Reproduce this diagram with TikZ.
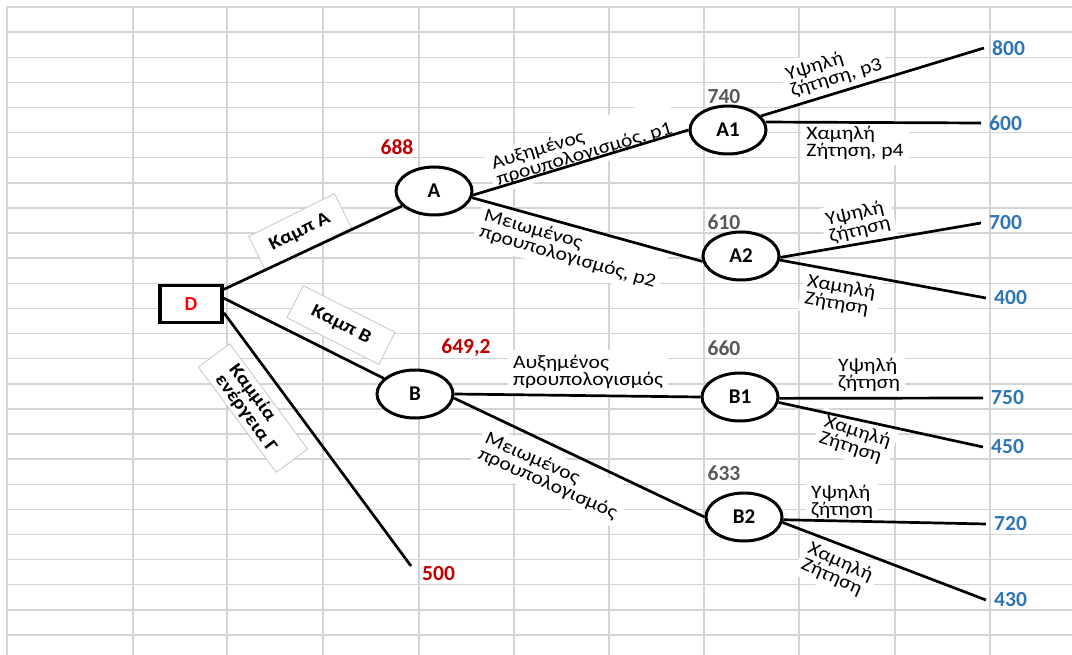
\documentclass[tikz,border=0pt]{standalone}
\usepackage{fontspec}
\setmainfont{Carlito}
\newfontfamily\lblfont[FakeStretch=1.14]{Carlito}
\usetikzlibrary{shapes.geometric}
\definecolor{gridgray}{RGB}{212,212,212}
\definecolor{valred}{RGB}{192,0,0}
\definecolor{valgray}{RGB}{89,89,89}
\definecolor{valblue}{RGB}{46,117,182}

\begin{document}
\begin{tikzpicture}[x=1pt, y=-1pt,
	gridline/.style={draw=gridgray, line width=1.4pt},
	chance node/.style={ellipse, draw, line width=3pt, fill=white, minimum width=76pt, minimum height=48pt, inner sep=0pt, font=\fontsize{21}{21}\selectfont\bfseries},
	decision node/.style={rectangle, draw, line width=3.8pt, fill=white, minimum width=62pt, minimum height=37pt, font=\fontsize{20}{20}\selectfont\bfseries, text=red},
	branch/.style={line width=2.7pt},
	label box/.style={draw=gray!45, line width=0.8pt, fill=white, align=left, font=\lblfont\fontsize{18.5}{17.5}\selectfont\bfseries},
	edge text/.style={fill=white, inner sep=5pt, align=left, font=\lblfont\fontsize{19}{17}\selectfont},
	node value/.style={font=\fontsize{21.5}{21.5}\selectfont\bfseries},
	leaf value/.style={anchor=west, inner xsep=8pt, inner ysep=0pt, text=valblue, font=\fontsize{21.5}{21.5}\selectfont\bfseries}]

	\useasboundingbox (0,0) rectangle (1072,655);

	% Spreadsheet grid
	\foreach \k in {0,...,25}
		\draw[gridline] (7,{7+25.12*\k}) -- (1072,{7+25.12*\k});
	\foreach \x in {7,133,227,323,419,514,609,704,799,895,990}
		\draw[gridline] (\x,7) -- (\x,655);

	% Branch labels
	\node[label box, minimum width=96pt, minimum height=38pt, rotate=26.5] (lblA) at (300,232) {Καμπ A};
	\node[label box, minimum width=103pt, minimum height=36pt, rotate=-27] (lblB) at (341,325) {Καμπ B};
	\node[label box, minimum width=131pt, minimum height=39pt, inner sep=1pt, rotate=-53.5] (lblC) at (253,408) {Καμμία\\ενέργεια Γ};

	\node[edge text, rotate=16.7] (tA1) at (582,146) {Αυξημένος\\προυπολογισμός, p1};
	\node[edge text, rotate=-16] (tA2) at (570,249) {Μειωμένος\\προυπολογισμός, p2};
	\node[edge text, rotate=16.6] (tA1h) at (834,70) {Υψηλή\\ζήτηση, p3};
	\node[edge text] (tA1l) at (855,143) {Χαμηλή\\Ζήτηση, p4};
	\node[edge text, rotate=13] (tA2h) at (858,222) {Υψηλή\\ζήτηση};
	\node[edge text, rotate=-10] (tA2l) at (840,296) {Χαμηλή\\Ζήτηση};
	\node[edge text] (tB1) at (588,372) {Αυξημένος\\προυπολογισμός};
	\node[edge text, rotate=-24] (tB2) at (551,476) {Μειωμένος\\προυπολογισμός};
	\node[edge text] (tB1h) at (869,375) {Υψηλή\\ζήτηση};
	\node[edge text, rotate=-18] (tB1l) at (855,440) {Χαμηλή\\Ζήτηση};
	\node[edge text] (tB2h) at (842,502) {Υψηλή\\ζήτηση};
	\node[edge text, rotate=-24] (tB2l) at (837,570) {Χαμηλή\\Ζήτηση};

	% Decision and chance nodes
	\node[decision node] (D) at (191,304) {D};
	\node[chance node] (A) at (434,191) {A};
	\node[chance node] (B) at (415,394) {B};
	\node[chance node] (A1) at (728,130) {A1};
	\node[chance node] (A2) at (741,256) {A2};
	\node[chance node] (B1) at (740,397) {B1};
	\node[chance node] (B2) at (744,517) {B2};

	% Expected values
	\node[node value, text=valred] (vA) at (397,147) {688};
	\node[node value, text=valred] (vB) at (466,348) {649,2};
	\node[node value, text=valgray] (vA1) at (724,97) {740};
	\node[node value, text=valgray] (vA2) at (724,222) {610};
	\node[node value, text=valgray] (vB1) at (724,348) {660};
	\node[node value, text=valgray] (vB2) at (724,473) {633};

	% Pay-offs
	\node[leaf value] (v800) at (984,48) {800};
	\node[leaf value] (v600) at (981,123) {600};
	\node[leaf value] (v700) at (981,223) {700};
	\node[leaf value] (v400) at (986,298) {400};
	\node[leaf value] (v750) at (983,398) {750};
	\node[leaf value] (v450) at (983,447) {450};
	\node[leaf value] (v720) at (986,524) {720};
	\node[leaf value] (v430) at (986,600) {430};
	\node[leaf value, anchor=north west, inner xsep=11pt, text=valred] (v500) at (411,566) {500};

	% Branches
	\path[branch] (D.24) edge (A);
	\path[branch] (D.10) edge (B);
	\path[branch] (D.-15) edge (v500.north west);
	\path[branch] (A.-6) edge (A1.west);
	\path[branch] (A.-10) edge (A2.188);
	\path[branch] (B.east) edge (B1.west);
	\path[branch] (B.-6) edge (B2.west);
	\path[branch] (A1.23) edge (v800.west);
	\path[branch] (A1.12) edge (v600.west);
	\path[branch] (A2.-2) edge (v700.west);
	\path[branch] (A2.-6) edge (v400.west);
	\path[branch] (B1.-2) edge (v750.west);
	\path[branch] (B1.-8) edge (v450.west);
	\path[branch] (B2.-4) edge (v720.west);
	\path[branch] (B2.-8) edge (v430.west);
\end{tikzpicture}
\end{document}
